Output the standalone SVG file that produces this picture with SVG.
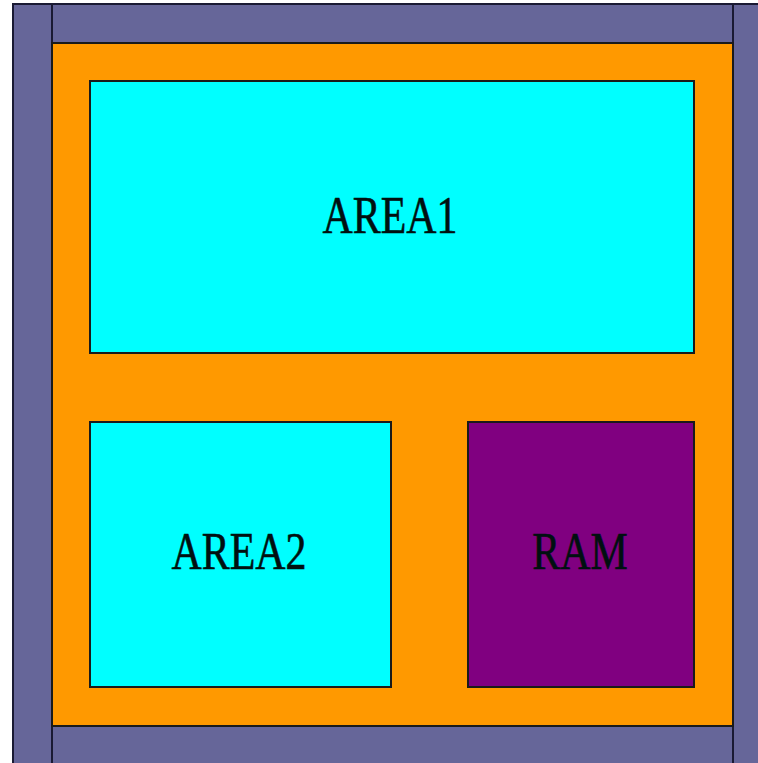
<svg xmlns="http://www.w3.org/2000/svg" width="758" height="763" viewBox="0 0 758 763">
<style>
.bar{fill:#666699;stroke:#1a1a33;stroke-width:2}
.core{fill:#ff9900;stroke:#1a1a1a;stroke-width:2}
.area{fill:#00ffff;stroke:#1a1a1a;stroke-width:2}
.ram{fill:#800080;stroke:#1a1a1a;stroke-width:2}
.lbl{font-family:"Liberation Serif","Times New Roman",serif;font-size:53px;fill:#001010;stroke:#001010;stroke-width:0.6;text-anchor:middle}
</style>
<rect width="758" height="763" fill="#ffffff"/>
<g id="io-ring">
<rect class="bar" x="13" y="4" width="39" height="770"/>
<rect class="bar" x="733" y="4" width="40" height="770"/>
<rect class="bar" x="52" y="4" width="681" height="39"/>
<rect class="bar" x="52" y="726" width="681" height="48"/>
</g>
<g id="core">
<rect class="core" x="52" y="43" width="681" height="683"/>
</g>
<g id="area1">
<rect class="area" x="90" y="81" width="604" height="272"/>
<text class="lbl" transform="translate(390,233) scale(0.79,1)">AREA1</text>
</g>
<g id="area2">
<rect class="area" x="90" y="422" width="301" height="265"/>
<text class="lbl" transform="translate(239,569) scale(0.79,1)">AREA2</text>
</g>
<g id="ram">
<rect class="ram" x="468" y="422" width="226" height="265"/>
<text class="lbl" transform="translate(580,569) scale(0.79,1)">RAM</text>
</g>
<g id="connectors"/>
</svg>
